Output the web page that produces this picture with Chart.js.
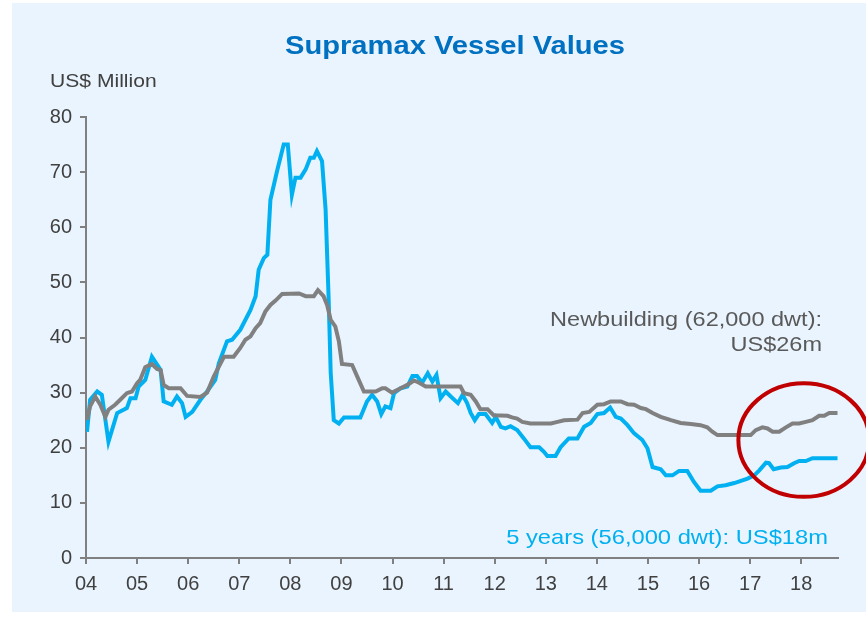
<!DOCTYPE html>
<html lang="en">
<head>
    <meta charset="UTF-8">
    <title>Supramax Vessel Values</title>
    <style type="text/css">
        body{ margin:0; background:#ffffff; }
        .chartBox{ width:866px; height:620px; }
    </style>
</head>
<body>

<div class="chartBox">
    <canvas id="myChart" width="866" height="620"></canvas>
</div>

<script src="https://cdn.jsdelivr.net/npm/chart.js"></script>
<script>
// Newbuilding (62,000 dwt), US$ million
const nbDates = [2004.02, 2004.08, 2004.18, 2004.28, 2004.38, 2004.44, 2004.57, 2004.67, 2004.80, 2004.90,
    2005.00, 2005.06, 2005.16, 2005.29, 2005.39, 2005.46, 2005.52, 2005.62, 2005.85, 2005.98,
    2006.24, 2006.37, 2006.50, 2006.70, 2006.89, 2007.02, 2007.12, 2007.22, 2007.32, 2007.41,
    2007.51, 2007.61, 2007.71, 2007.84, 2008.17, 2008.30, 2008.46, 2008.54, 2008.65, 2008.72,
    2008.79, 2008.88, 2008.95, 2009.01, 2009.21, 2009.31, 2009.44, 2009.67, 2009.80, 2009.86,
    2009.99, 2010.16, 2010.29, 2010.42, 2010.52, 2010.65, 2011.33, 2011.40, 2011.53, 2011.63,
    2011.72, 2011.86, 2011.98, 2012.25, 2012.34, 2012.44, 2012.54, 2012.70, 2013.10, 2013.23,
    2013.36, 2013.62, 2013.72, 2013.85, 2014.01, 2014.14, 2014.27, 2014.47, 2014.60, 2014.73,
    2014.86, 2014.96, 2015.09, 2015.25, 2015.45, 2015.64, 2015.84, 2016.03, 2016.16, 2016.26,
    2016.36, 2017.01, 2017.11, 2017.24, 2017.34, 2017.44, 2017.57, 2017.70, 2017.83, 2017.96,
    2018.09, 2018.22, 2018.35, 2018.45, 2018.55, 2018.71];
const nbValues = [25.0, 27.5, 29.3, 27.8, 25.6, 26.9, 27.8, 28.7, 29.9, 30.2,
    31.7, 32.3, 34.6, 35.2, 34.3, 34.1, 31.4, 30.8, 30.8, 29.4,
    29.2, 30.0, 32.9, 36.5, 36.5, 38.1, 39.6, 40.2, 41.7, 42.6,
    44.7, 45.9, 46.7, 47.9, 48.0, 47.5, 47.5, 48.6, 47.5, 45.9,
    43.2, 42.0, 39.3, 35.2, 35.0, 32.9, 30.2, 30.2, 30.8, 30.8,
    30.0, 30.8, 31.4, 32.2, 31.8, 31.1, 31.1, 29.9, 29.6, 28.4,
    27.0, 27.0, 25.9, 25.8, 25.5, 25.3, 24.7, 24.4, 24.4, 24.7,
    25.0, 25.1, 26.3, 26.5, 27.8, 27.9, 28.4, 28.4, 27.9, 27.8,
    27.2, 27.0, 26.3, 25.6, 25.0, 24.5, 24.3, 24.1, 23.7, 22.9,
    22.3, 22.3, 23.2, 23.7, 23.5, 22.9, 22.9, 23.7, 24.4, 24.4,
    24.7, 25.0, 25.8, 25.8, 26.3, 26.3];

// 5 years old (56,000 dwt), US$ million
const fyDates = [2004.02, 2004.08, 2004.22, 2004.31, 2004.44, 2004.61, 2004.80, 2004.87, 2004.97, 2005.03,
    2005.16, 2005.29, 2005.46, 2005.52, 2005.68, 2005.78, 2005.88, 2005.95, 2006.08, 2006.24,
    2006.37, 2006.53, 2006.60, 2006.76, 2006.86, 2007.02, 2007.22, 2007.32, 2007.38, 2007.48,
    2007.55, 2007.61, 2007.74, 2007.87, 2007.95, 2008.03, 2008.10, 2008.20, 2008.30, 2008.39,
    2008.46, 2008.52, 2008.62, 2008.69, 2008.75, 2008.79, 2008.85, 2008.95, 2009.05, 2009.37,
    2009.50, 2009.60, 2009.70, 2009.78, 2009.86, 2009.96, 2010.03, 2010.16, 2010.29, 2010.39,
    2010.48, 2010.58, 2010.69, 2010.78, 2010.86, 2010.94, 2011.04, 2011.14, 2011.28, 2011.37,
    2011.46, 2011.53, 2011.61, 2011.69, 2011.82, 2011.95, 2012.02, 2012.12, 2012.21, 2012.31,
    2012.44, 2012.57, 2012.70, 2012.87, 2012.96, 2013.03, 2013.19, 2013.29, 2013.45, 2013.62,
    2013.75, 2013.88, 2014.01, 2014.14, 2014.26, 2014.37, 2014.47, 2014.60, 2014.73, 2014.89,
    2014.99, 2015.09, 2015.25, 2015.35, 2015.48, 2015.61, 2015.77, 2015.90, 2016.03, 2016.23,
    2016.36, 2016.52, 2016.69, 2016.82, 2016.95, 2017.08, 2017.18, 2017.31, 2017.37, 2017.46,
    2017.60, 2017.73, 2017.86, 2017.96, 2018.09, 2018.22, 2018.71];
const fyValues = [22.9, 28.7, 30.2, 29.6, 21.1, 26.3, 27.2, 29.0, 29.0, 31.1,
    32.3, 36.5, 34.1, 28.4, 27.8, 29.3, 28.1, 25.6, 26.5, 28.7,
    30.2, 32.3, 35.3, 39.3, 39.6, 41.4, 45.0, 47.5, 52.3, 54.4,
    55.0, 65.0, 70.2, 75.0, 75.0, 65.9, 69.0, 69.0, 70.5, 72.6,
    72.6, 73.8, 72.0, 63.2, 46.9, 33.6, 25.0, 24.4, 25.5, 25.5,
    28.4, 29.6, 28.4, 26.1, 27.5, 27.2, 29.9, 30.8, 31.1, 33.0,
    33.0, 31.8, 33.5, 32.0, 33.2, 29.0, 30.2, 29.3, 28.1, 29.6,
    28.1, 26.3, 25.0, 26.1, 26.1, 24.5, 25.6, 23.8, 23.5, 23.9,
    23.2, 21.7, 20.1, 20.1, 19.3, 18.5, 18.5, 20.1, 21.7, 21.7,
    23.8, 24.5, 26.1, 26.3, 27.3, 25.6, 25.3, 24.1, 22.6, 21.4,
    19.9, 16.5, 16.1, 15.0, 15.0, 15.8, 15.8, 13.8, 12.2, 12.2,
    13.0, 13.2, 13.6, 14.0, 14.4, 15.0, 15.9, 17.3, 17.2, 16.1,
    16.4, 16.5, 17.2, 17.6, 17.6, 18.1, 18.1];

const yTicks = [0, 10, 20, 30, 40, 50, 60, 70, 80];

const toPoints = (xs, ys) => xs.map((x, i) => ({x: x, y: ys[i]}));

const textColor = '#404040';
const axisColor = '#808080';
const fontFamily = '"Liberation Sans", Arial, sans-serif';

// the source text is a little wider than Arial, so stretch it sideways
function wideText(c, str, x, y, align, sx) {
    c.save();
    c.translate(x, y);
    c.scale(sx, 1);
    c.textAlign = align;
    c.fillText(str, 0, 0);
    c.restore();
}

// background, title, unit label, series labels, red circle
const decor = {
    id: 'decor',
    beforeDraw(chart) {
        const c = chart.ctx;
        c.save();
        c.fillStyle = '#ffffff';
        c.fillRect(0, 0, chart.width, chart.height);
        c.fillStyle = '#EAF4FE';
        c.fillRect(12, 3, chart.width - 12, 609);
        c.restore();
    },
    afterDraw(chart) {
        const c = chart.ctx;
        const xs = chart.scales.x, ys = chart.scales.y;
        c.save();
        c.textBaseline = 'middle';
        c.fillStyle = '#0070C0';
        c.font = 'bold 26px ' + fontFamily;
        wideText(c, 'Supramax Vessel Values', 455, 47, 'center', 1.12);

        c.fillStyle = textColor;
        c.font = '19px ' + fontFamily;
        wideText(c, 'US$ Million', 50, 82, 'left', 1.11);

        c.fillStyle = '#595959';
        c.font = '21px ' + fontFamily;
        wideText(c, 'Newbuilding (62,000 dwt):', 822, 320, 'right', 1.12);
        wideText(c, 'US$26m', 822, 345, 'right', 1.12);

        c.fillStyle = '#00B0F0';
        wideText(c, '5 years (56,000 dwt): US$18m', 828, 538, 'right', 1.13);

        // highlight ring round the latest values
        const cx = xs.getPixelForValue(2018.05);
        const cy = ys.getPixelForValue(21.4);
        const rx = xs.getPixelForValue(2018.05 + 1.28) - cx;
        const ry = ys.getPixelForValue(21.4) - ys.getPixelForValue(31.7);
        c.strokeStyle = '#C00000';
        c.lineWidth = 4;
        c.beginPath();
        c.ellipse(cx, cy, rx, ry, 0, 0, Math.PI * 2);
        c.stroke();
        c.restore();
    }
};

const ctx = document.getElementById('myChart').getContext('2d');
const myChart = new Chart(ctx, {
    type: 'line',
    data: {
        datasets: [{
            label: 'Newbuilding (62,000 dwt)',
            data: toPoints(nbDates, nbValues),
            borderColor: '#808080',
            borderWidth: 4,
            pointRadius: 0,
            tension: 0,
            fill: false
        }, {
            label: '5 years (56,000 dwt)',
            data: toPoints(fyDates, fyValues),
            borderColor: '#00B0F0',
            borderWidth: 4,
            pointRadius: 0,
            tension: 0,
            fill: false
        }]
    },
    options: {
        responsive: false,
        animation: false,
        layout: { padding: { left: 0, top: 117, right: 28, bottom: 0 } },
        plugins: {
            legend: { display: false },
            tooltip: { enabled: false }
        },
        scales: {
            x: {
                type: 'linear',
                min: 2004,
                max: 2018.72,
                afterFit: s => { s.height = 62; },
                border: { color: axisColor, width: 2 },
                grid: { drawOnChartArea: false, color: axisColor, lineWidth: 2, tickLength: 6 },
                ticks: {
                    stepSize: 1,
                    includeBounds: false,
                    color: textColor,
                    padding: 8,
                    maxRotation: 0,
                    font: { family: fontFamily, size: 20 },
                    callback: v => String(v % 100).padStart(2, '0')
                }
            },
            y: {
                min: 0,
                max: 80,
                afterFit: s => { s.width = 86; },
                afterBuildTicks: s => { s.ticks = yTicks.map(v => ({value: v})); },
                border: { color: axisColor, width: 2 },
                grid: { drawOnChartArea: false, color: axisColor, lineWidth: 2, tickLength: 6 },
                ticks: {
                    color: textColor,
                    padding: 8,
                    font: { family: fontFamily, size: 20 }
                }
            }
        }
    },
    plugins: [decor]
});
</script>

</body>
</html>
